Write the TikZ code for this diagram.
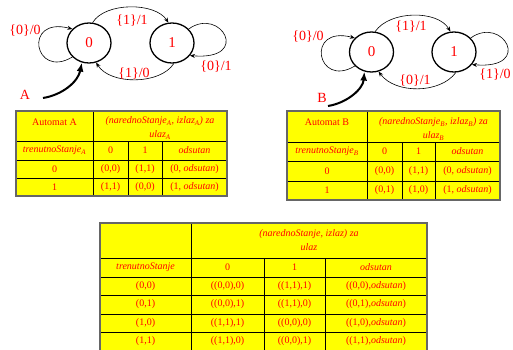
\documentclass[tikz,border=0pt]{standalone}
\usepackage{fontspec}
\setmainfont{Liberation Serif}
\usetikzlibrary{shapes.geometric,arrows.meta}
\definecolor{txtred}{RGB}{255,0,0}
\definecolor{cellyel}{RGB}{255,255,0}
\definecolor{framecol}{gray}{0.40}
\tikzset{
  stat/.style={draw,ellipse,line width=1.3pt,minimum width=44pt,minimum height=40pt,inner sep=0pt,text=txtred,font=\fontsize{15}{15}\selectfont},
  elab/.style={text=txtred,font=\fontsize{14}{14}\selectfont,inner sep=0pt},
  trans/.style={line width=0.6pt,-{Stealth[length=5pt,width=4pt]}},
  init/.style={line width=2pt,-{Latex[length=9pt,width=7pt]}},
  cell/.style={text=txtred,font=\fontsize{10}{14}\selectfont,inner sep=0pt,align=center},
  tabgrid/.style={black,line width=0.7pt},
  tabframe/.style={draw=framecol,line width=1.2pt},
}

\begin{document}
\begin{tikzpicture}[x=1pt,y=1pt]
  \useasboundingbox (0,0) rectangle (513,-350);
  % automat A
  \node[stat] (s0A) at (89,-43) {0};
  \node[stat] (s1A) at (172,-43) {1};
  \draw[trans] (s0A.80) .. controls (105,-2) and (155,-2) .. (s1A.100);
  \draw[trans] (s1A.275) .. controls (160,-85) and (110,-85) .. (s0A.290);
  \draw[trans] (s0A.220) .. controls +(-38,-23) and +(-50,13) .. (s0A.140);
  \draw[trans] (s1A.40) .. controls +(32,23) and +(62,-5) .. (s1A.325);
  \coordinate (iniA) at (43,-98);
  \draw[init] (iniA) .. controls (62,-95) and (78,-82) .. (s0A.250);
  \node[elab] (lA00) at (25,-31) {\{0\}/0};
  \node[elab] (lA01) at (132,-21) {\{1\}/1};
  \node[elab] (lA10) at (134,-74) {\{1\}/0};
  \node[elab] (lA11) at (216,-67) {\{0\}/1};
  \node[elab] (nameA) at (25,-95) {A};
  % automat B
  \node[stat] (s0B) at (371.5,-52) {0};
  \node[stat] (s1B) at (454,-52) {1};
  \draw[trans] (s0B.80) .. controls (390,-10) and (438,-10) .. (s1B.100);
  \draw[trans] (s1B.275) .. controls (440,-94) and (395,-94) .. (s0B.290);
  \draw[trans] (s0B.220) .. controls +(-38,-23) and +(-50,13) .. (s0B.140);
  \draw[trans] (s1B.40) .. controls +(32,23) and +(62,-5) .. (s1B.325);
  \coordinate (iniB) at (328,-106);
  \draw[init] (iniB) .. controls (347,-103) and (363,-89) .. (s0B.250);
  \node[elab] (lB00) at (308,-37) {\{0\}/0};
  \node[elab] (lB01) at (411,-27) {\{1\}/1};
  \node[elab] (lB10) at (415,-81) {\{0\}/1};
  \node[elab] (lB11) at (495,-75) {\{1\}/0};
  \node[elab] (nameB) at (322,-98) {B};
  % table of A
  \fill[cellyel] (16,-111) rectangle (227,-196);
  \foreach \y in {141,160,178} \draw[tabgrid] (16,-\y) -- (227,-\y);
  \draw[tabgrid] (93,-111) -- (93,-196);
  \foreach \x in {128,162} \draw[tabgrid] (\x,-141) -- (\x,-196);
  \draw[tabframe] (16,-111) rectangle (227,-196);
  \node[cell] (autA) at (54.5,-122) {Automat A};
  \node[cell] (hdrA) at (160,-128) {\textit{(narednoStanje\textsubscript{A}, izlaz\textsubscript{A}) za}\\\textit{ulaz\textsubscript{A}}};
  \node[cell] (curA) at (54.5,-150.5) {\textit{trenutnoStanje\textsubscript{A}}};
  \node[cell] (inA0) at (110.5,-150.5) {0};
  \node[cell] (inA1) at (145,-150.5) {1};
  \node[cell] (inAx) at (194.5,-150.5) {\textit{odsutan}};
  \foreach \r/\y/\p/\q/\o in {0/169/{(0,0)}/{(1,1)}/{(0, \textit{odsutan})},
                              1/187/{(1,1)}/{(0,0)}/{(1, \textit{odsutan})}} {
    \node[cell] (rA\r) at (54.5,-\y) {\r};
    \node[cell] (pA\r) at (110.5,-\y) {\p};
    \node[cell] (qA\r) at (145,-\y) {\q};
    \node[cell] (oA\r) at (194.5,-\y) {\o};
  }
  % table of B
  \fill[cellyel] (287,-111) rectangle (500,-200);
  \foreach \y in {142,161,181} \draw[tabgrid] (287,-\y) -- (500,-\y);
  \draw[tabgrid] (367,-111) -- (367,-200);
  \foreach \x in {402,435} \draw[tabgrid] (\x,-142) -- (\x,-200);
  \draw[tabframe] (287,-111) rectangle (500,-200);
  \node[cell] (autB) at (327,-122) {Automat B};
  \node[cell] (hdrB) at (433.5,-129) {\textit{(narednoStanje\textsubscript{B}, izlaz\textsubscript{B}) za}\\\textit{ulaz\textsubscript{B}}};
  \node[cell] (curB) at (327,-151.5) {\textit{trenutnoStanje\textsubscript{B}}};
  \node[cell] (inB0) at (384.5,-151.5) {0};
  \node[cell] (inB1) at (418.5,-151.5) {1};
  \node[cell] (inBx) at (467.5,-151.5) {\textit{odsutan}};
  \foreach \r/\y/\p/\q/\o in {0/171/{(0,0)}/{(1,1)}/{(0, \textit{odsutan})},
                              1/190.5/{(0,1)}/{(1,0)}/{(1, \textit{odsutan})}} {
    \node[cell] (rB\r) at (327,-\y) {\r};
    \node[cell] (pB\r) at (384.5,-\y) {\p};
    \node[cell] (qB\r) at (418.5,-\y) {\q};
    \node[cell] (oB\r) at (467.5,-\y) {\o};
  }
  % product table
  \fill[cellyel] (100,-223) rectangle (427,-352);
  \foreach \y in {258,277,295,314,332} \draw[tabgrid] (100,-\y) -- (427,-\y);
  \draw[tabgrid] (191,-223) -- (191,-352);
  \foreach \x in {264,325} \draw[tabgrid] (\x,-258) -- (\x,-352);
  \draw[tabframe] (100,-223) rectangle (427,-352);
  \node[cell] (hdrC) at (309,-240.5) {\textit{(narednoStanje, izlaz) za}\\\textit{ulaz}};
  \node[cell] (curC) at (145.5,-267.5) {\textit{trenutnoStanje}};
  \node[cell] (inC0) at (227.5,-267.5) {0};
  \node[cell] (inC1) at (294.5,-267.5) {1};
  \node[cell] (inCx) at (376,-267.5) {\textit{odsutan}};
  \foreach \i/\y/\s/\p/\q/\o in {1/286/{(0,0)}/{((0,0),0)}/{((1,1),1)}/{((0,0),\textit{odsutan})},
                                 2/304.5/{(0,1)}/{((0,0),1)}/{((1,1),0)}/{((0,1),\textit{odsutan})},
                                 3/323/{(1,0)}/{((1,1),1)}/{((0,0),0)}/{((1,0),\textit{odsutan})},
                                 4/341/{(1,1)}/{((1,1),0)}/{((0,0),1)}/{((1,1),\textit{odsutan})}} {
    \node[cell] (rC\i) at (145.5,-\y) {\s};
    \node[cell] (pC\i) at (227.5,-\y) {\p};
    \node[cell] (qC\i) at (294.5,-\y) {\q};
    \node[cell] (oC\i) at (376,-\y) {\o};
  }
\end{tikzpicture}
\end{document}
